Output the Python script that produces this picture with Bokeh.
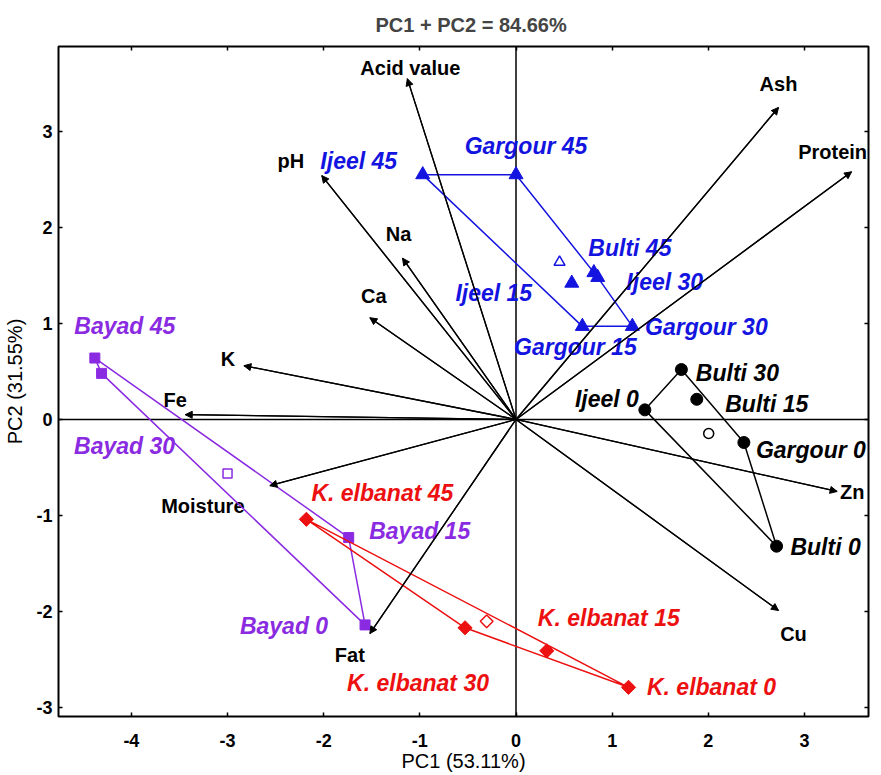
import numpy as np
from bokeh.plotting import figure
from bokeh.models import ColumnDataSource, Range1d, Span, Arrow, NormalHead, LinearAxis, FixedTicker
from bokeh.core.properties import value
from bokeh.embed import file_html
from bokeh.resources import INLINE

# ---------------- data ----------------
title_text = "PC1 + PC2 = 84.66%"
x_label = "PC1 (53.11%)"
y_label = "PC2 (31.55%)"
x_ticks = [-4, -3, -2, -1, 0, 1, 2, 3]
x_tick_labels = ["-4", "-3", "-2", "-1", "0", "1", "2", "3"]
y_ticks = [-3, -2, -1, 0, 1, 2, 3]
y_tick_labels = ["-3", "-2", "-1", "0", "1", "2", "3"]

blue_names = ["Ijeel 45", "Gargour 45", "Bulti 45", "Ijeel 30", "Ijeel 15", "Gargour 30", "Gargour 15"]
blue_pc1 = [-0.97, 0.00, 0.81, 0.85, 0.58, 1.21, 0.69]
blue_pc2 = [2.55, 2.55, 1.53, 1.48, 1.42, 0.97, 0.97]

black_names = ["Bulti 30", "Bulti 15", "Ijeel 0", "Gargour 0", "Bulti 0"]
black_pc1 = [1.72, 1.88, 1.34, 2.37, 2.71]
black_pc2 = [0.52, 0.21, 0.10, -0.24, -1.32]

purple_names = ["Bayad 45", "Bayad 30", "Bayad 15", "Bayad 0"]
purple_pc1 = [-4.38, -4.31, -1.74, -1.57]
purple_pc2 = [0.64, 0.48, -1.23, -2.14]

red_names = ["K. elbanat 45", "K. elbanat 30", "K. elbanat 15", "K. elbanat 0"]
red_pc1 = [-2.18, -0.53, 0.32, 1.17]
red_pc2 = [-1.04, -2.17, -2.41, -2.79]

var_names = ["Acid value", "Ash", "Protein", "pH", "Na", "Ca", "K", "Fe", "Moisture", "Fat", "Zn", "Cu"]
var_pc1 = [-1.13, 2.73, 3.49, -2.02, -1.18, -1.52, -2.83, -3.44, -2.56, -1.52, 3.34, 2.73]
var_pc2 = [3.55, 3.25, 2.58, 2.54, 1.68, 1.06, 0.56, 0.05, -0.69, -2.23, -0.75, -1.99]

# ---------------- layout / style (label offsets in screen px) ----------------
blue_off = [(-64, -14), (10, -29), (36, -25), (67, 5), (-78, 10), (74, 1), (-7, 21)]
black_off = [(56, 3), (70, 5), (-38, -11), (67, 7), (49, 1)]
purple_off = [(30, -32), (23, 73), (71, -7), (-81, 1)]
red_off = [(76, -26), (-47, 55), (62, -33), (83, 0)]
var_off = [(3, -11), (0, -23), (-19, -20), (-31, -15), (-4, -24), (4, -22),
           (-16, -7), (-10, -15), (-67, 20), (-20, 21), (15, 1), (15, 23)]

FONT = "Liberation Sans"
BLUE = "#1414E0"
BLACK = "#000000"
PURPLE = "#8A2BE2"
RED = "#EC1010"


def hull(xs, ys):
    pts = sorted(zip(xs, ys))
    def cross(o, a, b):
        return (a[0] - o[0]) * (b[1] - o[1]) - (a[1] - o[1]) * (b[0] - o[0])
    lower, upper = [], []
    for pt in pts:
        while len(lower) >= 2 and cross(lower[-2], lower[-1], pt) <= 0:
            lower.pop()
        lower.append(pt)
    for pt in reversed(pts):
        while len(upper) >= 2 and cross(upper[-2], upper[-1], pt) <= 0:
            upper.pop()
        upper.append(pt)
    h = lower[:-1] + upper[:-1]
    h.append(h[0])
    return [q[0] for q in h], [q[1] for q in h]


p = figure(width=880, height=774,
           x_range=Range1d(-4.758, 3.666), y_range=Range1d(-3.094, 3.885),
           output_backend="svg", toolbar_location=None,
           x_axis_location=None, y_axis_location=None,
           min_border_left=58, min_border_right=12, min_border_top=46, min_border_bottom=57)
p.grid.visible = False
p.outline_line_color = "black"
p.outline_line_width = 2
p.background_fill_color = "white"
p.border_fill_color = "white"

p.title.text = title_text
p.title.align = "left"
p.title.offset = 317
p.title.text_font = FONT
p.title.text_font_size = "20px"
p.title.text_font_style = "bold"
p.title.standoff = 21

def style_axis(ax, show_labels):
    ax.axis_line_color = None
    ax.major_tick_in = 4
    ax.major_tick_out = 0
    ax.major_tick_line_width = 1.5
    ax.minor_tick_line_color = None
    if show_labels:
        ax.major_label_text_font = FONT
        ax.major_label_text_font_size = "18px"
        ax.major_label_text_font_style = "bold"
        ax.major_label_text_color = "black"
        ax.axis_label_text_font = FONT
        ax.axis_label_text_font_size = "20px"
        ax.axis_label_text_font_style = "normal"
        ax.axis_label_text_color = "black"
    else:
        ax.major_label_text_font_size = "0px"
        ax.major_label_standoff = 0

xb = LinearAxis(ticker=FixedTicker(ticks=x_ticks), axis_label=x_label,
                major_label_overrides={t: s for t, s in zip(x_ticks, x_tick_labels)})
style_axis(xb, True)
xb.major_label_standoff = 17
xb.axis_label_standoff = 0
p.add_layout(xb, "below")

yl = LinearAxis(ticker=FixedTicker(ticks=y_ticks), axis_label=y_label,
                major_label_overrides={t: s for t, s in zip(y_ticks, y_tick_labels)})
style_axis(yl, True)
yl.major_label_standoff = 6
yl.axis_label_standoff = 7
p.add_layout(yl, "left")

xt = LinearAxis(ticker=FixedTicker(ticks=x_ticks))
style_axis(xt, False)
p.add_layout(xt, "above")
yr = LinearAxis(ticker=FixedTicker(ticks=y_ticks))
style_axis(yr, False)
p.add_layout(yr, "right")

p.add_layout(Span(location=0, dimension="height", line_color="black", line_width=1.5, level="underlay"))
p.add_layout(Span(location=0, dimension="width", line_color="black", line_width=1.5, level="underlay"))

# loadings
vsrc = ColumnDataSource(dict(x0=[0.0] * len(var_names), y0=[0.0] * len(var_names),
                             x1=var_pc1, y1=var_pc2, name=var_names,
                             dx=[o[0] for o in var_off], dy=[o[1] for o in var_off]))
p.segment(x0="x0", y0="y0", x1="x1", y1="y1", source=vsrc, line_color="black", line_width=1.3)
p.add_layout(Arrow(end=NormalHead(size=7, fill_color="black", line_color="black", line_width=1),
                   x_start="x0", y_start="y0", x_end="x1", y_end="y1", source=vsrc,
                   line_color="black", line_width=1.3))
p.text(x="x1", y="y1", text="name", x_offset="dx", y_offset="dy", source=vsrc,
       text_font=value(FONT), text_font_size="20px", text_font_style="bold",
       text_align="center", text_baseline="middle", text_color="black")

groups = [
    (blue_names, blue_pc1, blue_pc2, blue_off, BLUE, "triangle", 14, 0, 11),
    (black_names, black_pc1, black_pc2, black_off, BLACK, "circle", 12, 0, 10),
    (purple_names, purple_pc1, purple_pc2, purple_off, PURPLE, "square", 10, 0, 9),
    (red_names, red_pc1, red_pc2, red_off, RED, "square", 10, np.pi / 4, 9),
]

for names, xs, ys, offs, col, mk, sz, ang, osz in groups:
    hx, hy = hull(xs, ys)
    p.line(hx, hy, line_color=col, line_width=1.5)
    src = ColumnDataSource(dict(x=xs, y=ys, name=names,
                                dx=[o[0] for o in offs], dy=[o[1] for o in offs]))
    p.scatter(x="x", y="y", source=src, marker=mk, size=sz, angle=ang,
              fill_color=col, line_color=col)
    p.scatter(x=[float(np.mean(xs))], y=[float(np.mean(ys))], marker=mk, size=osz, angle=ang,
              fill_color="white", line_color=col, line_width=1.5)
    p.text(x="x", y="y", text="name", x_offset="dx", y_offset="dy", source=src,
           text_font=value(FONT), text_font_size="23px", text_font_style="bold italic",
           text_align="center", text_baseline="middle", text_color=col)

open("out.html", "w").write(file_html(p, INLINE))
